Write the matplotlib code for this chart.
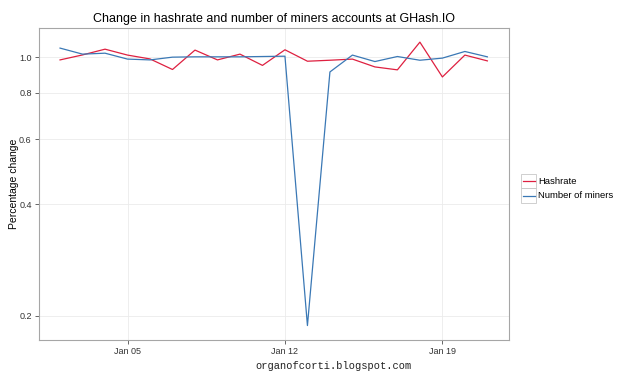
import matplotlib
matplotlib.use('Agg')
import matplotlib.pyplot as plt
import matplotlib.dates as mdates
from matplotlib.lines import Line2D
from matplotlib.patches import Rectangle
import numpy as np
import pandas as pd

# daily change ratios
dates = pd.date_range('2014-01-02', periods=20, freq='D')
hashrate = [0.983, 1.014, 1.051, 1.013, 0.989, 0.926, 1.045, 0.983, 1.019, 0.950,
            1.047, 0.975, 0.981, 0.988, 0.941, 0.924, 1.098, 0.884, 1.013, 0.977]
miners = [1.058, 1.019, 1.025, 0.988, 0.983, 1.000, 1.002, 1.002, 1.002, 1.004,
          1.006, 0.188, 0.912, 1.013, 0.973, 1.004, 0.981, 0.994, 1.036, 1.002]
series_names = ['Hashrate', 'Number of miners']
series_colors = ['#DE2040', '#3A78B5']
y_ticks = [0.2, 0.4, 0.6, 0.8, 1.0]
y_tick_labels = ['0.2', '0.4', '0.6', '0.8', '1.0']
x_ticks = pd.to_datetime(['2014-01-05', '2014-01-12', '2014-01-19'])

plt.rcParams['font.family'] = ['Liberation Sans', 'DejaVu Sans']

fig = plt.figure(figsize=(6.3, 3.78), dpi=100)
ax = fig.add_axes([0.0614, 0.1013, 0.7461, 0.8247])

for vals, name, col in zip([hashrate, miners], series_names, series_colors):
    ax.plot(dates, vals, color=col, lw=0.9, label=name)

ax.set_yscale('log')
# ggplot-style 5% expansion
lo, hi = np.log10(min(min(hashrate), min(miners))), np.log10(max(max(hashrate), max(miners)))
pad = (hi - lo) * 0.05
ax.set_ylim(10 ** (lo - pad), 10 ** (hi + pad))
x0, x1 = mdates.date2num(dates[0]), mdates.date2num(dates[-1])
xpad = (x1 - x0) * 0.05
ax.set_xlim(x0 - xpad, x1 + xpad)

ax.set_yticks(y_ticks)
ax.set_yticklabels(y_tick_labels)
ax.yaxis.set_minor_locator(matplotlib.ticker.NullLocator())
ax.set_xticks(x_ticks)
ax.xaxis.set_major_formatter(mdates.DateFormatter('%b %d'))

ax.grid(True, which='major', color='#ebebeb', lw=0.6)
ax.set_axisbelow(True)
for s in ax.spines.values():
    s.set_color('#a6a6a6')
    s.set_linewidth(0.8)
ax.tick_params(axis='both', labelsize=6.5, colors='#4d4d4d', length=3, width=0.6,
               labelcolor='#333333', pad=2)

ax.set_ylabel('Percentage change', fontsize=7.5, labelpad=0)
ax.set_title('Change in hashrate and number of miners accounts at GHash.IO',
             fontsize=9, pad=4)

fig.text(0.529, 0.032, 'organofcorti.blogspot.com', family='Liberation Mono',
         fontsize=7.5, ha='center', va='center', color='#222222')

# legend, ggplot style
for i, (name, col) in enumerate(zip(series_names, series_colors)):
    yc = 181 + i * 14.5
    fig.add_artist(Rectangle((521 / 630, 1 - (yc + 7.2) / 378), 15 / 630, 14.4 / 378,
                             transform=fig.transFigure, fill=False, ec='#c8c8c8', lw=0.6))
    fig.add_artist(Line2D([522.5 / 630, 534.5 / 630], [1 - yc / 378, 1 - yc / 378],
                          transform=fig.transFigure, color=col, lw=0.9))
    fig.text(538 / 630, 1 - yc / 378, name, fontsize=6.8, va='center', ha='left')

fig.savefig('out.png', dpi=100)
